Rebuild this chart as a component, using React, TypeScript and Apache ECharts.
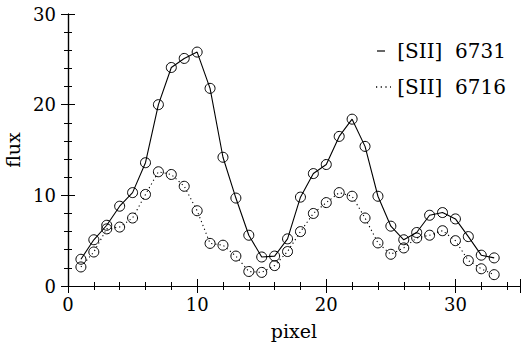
import React, { useEffect, useRef } from "react";
import * as echarts from "echarts";

const pixels = [1, 2, 3, 4, 5, 6, 7, 8, 9, 10, 11, 12, 13, 14, 15, 16, 17, 18, 19, 20, 21, 22, 23, 24, 25, 26, 27, 28, 29, 30, 31, 32, 33];
const sii6731 = [2.95, 5.1, 6.7, 8.8, 10.3, 13.6, 20.0, 24.1, 25.1, 25.8, 21.8, 14.2, 9.7, 5.6, 3.2, 3.3, 5.2, 9.8, 12.4, 13.4, 16.5, 18.4, 15.4, 9.9, 6.6, 5.1, 5.9, 7.8, 8.1, 7.4, 5.45, 3.4, 3.1];
const sii6716 = [2.1, 3.75, 6.3, 6.5, 7.5, 10.1, 12.6, 12.3, 11.0, 8.3, 4.7, 4.5, 3.3, 1.6, 1.5, 2.25, 3.8, 6.0, 8.0, 9.2, 10.3, 9.9, 7.5, 4.75, 3.5, 4.2, 5.3, 5.6, 6.1, 5.0, 2.8, 1.9, 1.25];
const xTicks = [0, 10, 20, 30];
const yTicks = [0, 10, 20, 30];
const legendNames = ["[SII]  6731", "[SII]  6716"];

const FONT = "'DejaVu Serif', serif";

export default function App() {
  const ref = useRef<HTMLDivElement>(null);
  useEffect(() => {
    if (!ref.current) return;
    const chart = echarts.init(ref.current, null, { renderer: "svg" });
    const axisLine = { show: true, lineStyle: { color: "#000", width: 1.2 } };
    const tick = { show: true, inside: true, length: 7, lineStyle: { color: "#000", width: 1 } };
    const minor = { show: true, splitNumber: 5, length: 4, lineStyle: { color: "#000", width: 1 } };
    const xBase = {
      type: "value",
      min: 0,
      max: 35,
      interval: 10,
      axisLine,
      axisTick: tick,
      minorTick: minor,
      splitLine: { show: false },
    };
    const yBase = {
      type: "value",
      min: 0,
      max: 30,
      interval: 10,
      axisLine,
      axisTick: tick,
      minorTick: minor,
      splitLine: { show: false },
    };
    const mk = (vals: number[]) => pixels.map((p, i) => [p, vals[i]]);
    chart.setOption({
      animation: false,
      grid: { left: 68, right: 10, top: 14, bottom: 56, outerBoundsMode: "none", containLabel: false },
      xAxis: [
        {
          ...xBase,
          position: "bottom",
          name: "pixel",
          nameLocation: "middle",
          nameGap: 35,
          nameTextStyle: { fontFamily: FONT, fontSize: 19, color: "#000" },
          axisLabel: {
            fontFamily: FONT,
            fontSize: 18,
            color: "#000",
            margin: 9,
            formatter: (v: number) => (xTicks.includes(v) ? String(v) : ""),
          },
        },
        { ...xBase, position: "top", axisLabel: { show: false } },
      ],
      yAxis: [
        {
          ...yBase,
          position: "left",
          name: "flux",
          nameLocation: "middle",
          nameGap: 46,
          nameRotate: 90,
          nameTextStyle: { fontFamily: FONT, fontSize: 19, color: "#000" },
          axisLabel: {
            fontFamily: FONT,
            fontSize: 18,
            color: "#000",
            margin: 12,
            formatter: (v: number) => (yTicks.includes(v) ? String(v) : ""),
          },
        },
        { ...yBase, position: "right", axisLabel: { show: false } },
      ],
      series: [
        {
          type: "line",
          name: legendNames[0],
          data: mk(sii6731),
          symbol: "circle",
          symbolSize: 10,
          showAllSymbol: true,
          lineStyle: { color: "#000", width: 1.1, type: "solid" },
          itemStyle: { color: "none", borderColor: "#000", borderWidth: 1 },
        },
        {
          type: "line",
          name: legendNames[1],
          data: mk(sii6716),
          symbol: "circle",
          symbolSize: 10,
          showAllSymbol: true,
          lineStyle: { color: "#000", width: 1.1, type: [1.2, 3] },
          itemStyle: { color: "none", borderColor: "#000", borderWidth: 1 },
        },
      ],
      graphic: [
        { type: "line", shape: { x1: 377, y1: 51, x2: 385, y2: 51 }, style: { stroke: "#000", lineWidth: 1.2 } },
        { type: "line", shape: { x1: 376, y1: 87, x2: 391, y2: 87 }, style: { stroke: "#000", lineWidth: 1.5, lineDash: [1.2, 3.5] } },
        { type: "text", x: 506, y: 51, style: { text: legendNames[0], fontFamily: FONT, fontSize: 20, fill: "#000", align: "right", verticalAlign: "middle" } },
        { type: "text", x: 506, y: 87, style: { text: legendNames[1], fontFamily: FONT, fontSize: 20, fill: "#000", align: "right", verticalAlign: "middle" } },
      ],
    });
    return () => chart.dispose();
  }, []);
  return <div ref={ref} style={{ width: 530, height: 342, position: "absolute", left: 0, top: 0 }} />;
}
